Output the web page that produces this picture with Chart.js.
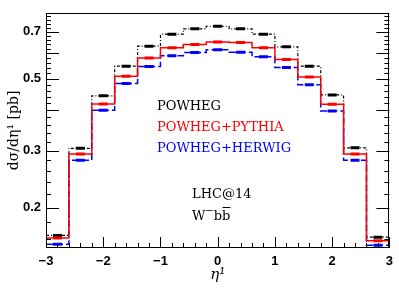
<!DOCTYPE html>
<html>
<head>
<meta charset="utf-8">
<script src="https://cdn.jsdelivr.net/npm/chart.js@4"></script>
<style>
  html, body { margin: 0; padding: 0; background: #fff; }
  canvas { display: block; }
</style>
</head>
<body>
<canvas id="chart" width="399" height="291"></canvas>
<script>
// eta bins (0.4 wide) and the three predictions
const binEdges = [-3, -2.6, -2.2, -1.8, -1.4, -1.0, -0.6, -0.2, 0.2, 0.6, 1.0, 1.4, 1.8, 2.2, 2.6, 3.0];
const powheg = [0.164, 0.305, 0.443, 0.547, 0.631, 0.687, 0.714, 0.727, 0.714, 0.687, 0.628, 0.547, 0.446, 0.306, 0.162];
const pythia = [0.161, 0.293, 0.418, 0.509, 0.580, 0.624, 0.638, 0.650, 0.647, 0.624, 0.574, 0.507, 0.417, 0.293, 0.158];
const herwig = [0.154, 0.280, 0.400, 0.484, 0.546, 0.589, 0.603, 0.615, 0.604, 0.585, 0.542, 0.479, 0.398, 0.280, 0.153];
const yTicks = [0.2, 0.3, 0.5, 0.7];
const xTicks = [-3, -2, -1, 0, 1, 2, 3];

const steps = vals => binEdges.map((e, i) => ({ x: e, y: vals[Math.min(i, vals.length - 1)] }));
const centers = vals => vals.map((v, i) => ({ x: (binEdges[i] + binEdges[i + 1]) / 2, y: v }));

const serif = "'DejaVu Serif', serif";
const sans = "'Liberation Sans', Arial, sans-serif";

function histo(vals, color, dash, width) {
  // chart.js 'before' = horizontal at the old value, then vertical at the next edge
  return {
    data: steps(vals), showLine: true, stepped: 'before', borderColor: color, borderWidth: width,
    borderDash: dash, pointRadius: 0, fill: false
  };
}
function marks(vals, color) {
  return {
    data: centers(vals), showLine: false, pointStyle: 'line', pointRadius: 4.5,
    borderColor: color, backgroundColor: color, pointBorderWidth: 3
  };
}

// frame + inward ticks, like the original plot
const frame = {
  id: 'frame',
  afterDraw(chart) {
    const { ctx, chartArea: a, scales: { x, y } } = chart;
    ctx.save();
    ctx.strokeStyle = '#000';
    ctx.lineWidth = 1;
    ctx.strokeRect(Math.round(a.left) + 0.5, Math.round(a.top) + 0.5,
      Math.round(a.right - a.left) - 1, Math.round(a.bottom - a.top) - 1);
    ctx.beginPath();
    for (let k = 8; k <= 40; k++) {
      const py = Math.round(y.getPixelForValue(k / 50)) + 0.5;
      const len = k % 5 === 0 ? 13 : 5;
      ctx.moveTo(a.left, py); ctx.lineTo(a.left + len, py);
      ctx.moveTo(a.right, py); ctx.lineTo(a.right - len, py);
    }
    for (let k = -15; k <= 15; k++) {
      const px = Math.round(x.getPixelForValue(k / 5)) + 0.5;
      const len = k % 5 === 0 ? 11 : 5;
      ctx.moveTo(px, a.bottom); ctx.lineTo(px, a.bottom - len);
    }
    ctx.stroke();

    ctx.textBaseline = 'middle';
    ctx.textAlign = 'left';
    ctx.font = '13px ' + serif;
    ctx.fillStyle = '#000'; ctx.fillText('POWHEG', 157, 107);
    ctx.fillStyle = '#ff0000'; ctx.fillText('POWHEG+PYTHIA', 157, 128);
    ctx.fillStyle = '#0000ff'; ctx.fillText('POWHEG+HERWIG', 157, 149);

    ctx.fillStyle = '#000';
    ctx.fillText('LHC@14', 192, 195);
    let cx = 192;
    const ly = 217;
    ctx.fillText('W', cx, ly); cx += ctx.measureText('W').width;
    ctx.font = '10px ' + serif;
    ctx.fillText('\u2212', cx, ly - 6); cx += ctx.measureText('\u2212').width;
    ctx.font = '13px ' + serif;
    ctx.fillText('b', cx, ly); cx += ctx.measureText('b').width;
    const bw = ctx.measureText('b').width;
    ctx.fillText('b', cx, ly);
    ctx.beginPath();
    ctx.moveTo(cx + 0.5, ly - 9.5); ctx.lineTo(cx + bw, ly - 9.5);
    ctx.stroke();
    ctx.restore();
  }
};

new Chart(document.getElementById('chart'), {
  type: 'scatter',
  data: {
    datasets: [
      marks(pythia, '#ff0000'),
      marks(herwig, '#0000ff'),
      marks(powheg, '#000000'),
      histo(pythia, '#ff0000', [], 1.5),
      histo(herwig, '#0000ff', [7, 3], 1.5),
      histo(powheg, '#000000', [3, 2, 1, 2], 1.2)
    ]
  },
  options: {
    responsive: false,
    animation: false,
    devicePixelRatio: 1,
    layout: { padding: { top: 3, right: 5, left: 0, bottom: 0 } },
    plugins: { legend: { display: false }, tooltip: { enabled: false } },
    scales: {
      x: {
        type: 'linear', min: -3, max: 3,
        afterBuildTicks: s => { s.ticks = xTicks.map(v => ({ value: v })); },
        afterFit: s => { s.height = 43; },
        grid: { display: false, drawTicks: false },
        border: { display: false },
        ticks: {
          padding: 6, color: '#000', font: { family: sans, size: 13, weight: 'bold' },
          callback: v => v < 0 ? '\u2212' + Math.abs(v) : String(v)
        },
        title: {
          display: true, text: '\u03b7\u00b9', color: '#000',
          font: { family: serif, size: 15, style: 'italic' },
          padding: { top: 0, bottom: 7 }
        }
      },
      y: {
        type: 'logarithmic', min: 0.15, max: 0.8,
        afterBuildTicks: s => { s.ticks = yTicks.map(v => ({ value: v })); },
        afterFit: s => { s.width = 46; },
        grid: { display: false, drawTicks: false },
        border: { display: false },
        ticks: {
          padding: 5, color: '#000', font: { family: sans, size: 13, weight: 'bold' },
          callback: v => v.toFixed(1)
        },
        title: {
          display: true, text: 'd\u03c3/d\u03b7\u00b9 [pb]', color: '#000',
          font: { family: serif, size: 14 },
          padding: { top: 6, bottom: 0 }
        }
      }
    }
  },
  plugins: [frame]
});
</script>
</body>
</html>
